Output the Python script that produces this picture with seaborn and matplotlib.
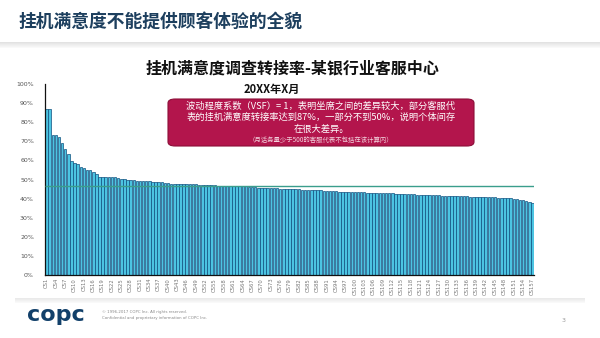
import numpy as np
import pandas as pd
import matplotlib
matplotlib.use("Agg")
import matplotlib.pyplot as plt
from matplotlib.patches import FancyBboxPatch, Rectangle
import seaborn as sns

# Transfer rate per service rep (%), sorted descending
rates = [
    86.9, 86.9, 73.3, 73.3, 72.1, 69.3, 65.8, 63.4, 59.9, 58.8, 57.9, 56.6, 55.8, 55.2, 54.8, 54.0, 53.0,
    51.3, 51.2, 51.2, 51.2, 51.1, 51.1, 51.0,
    50.3, 50.1, 50.0, 49.8,
    49.5, 49.4, 49.3,
    49.1, 49.0, 49.0, 48.8,
    48.7, 48.6, 48.5, 48.3,
    48.0, 47.9, 47.9, 47.8, 47.8, 47.7, 47.7, 47.6, 47.5,
    47.4, 47.3, 47.3, 47.2, 47.2, 47.1,
    46.9, 46.8, 46.8, 46.8, 46.7, 46.7, 46.6, 46.6, 46.5, 46.5, 46.4, 46.3, 46.2,
    45.9, 45.8, 45.8, 45.7, 45.7, 45.6, 45.5, 45.4,
    45.2, 45.1, 45.0, 45.0, 45.0, 44.9, 44.8, 44.7,
    44.6, 44.5, 44.5, 44.4, 44.3, 44.3, 44.2, 44.1,
    43.9, 43.8, 43.8, 43.7, 43.7, 43.6, 43.6, 43.5, 43.4,
    43.3, 43.2, 43.2, 43.1, 43.1, 43.0, 43.0, 42.9, 42.9,
    42.8, 42.7, 42.7, 42.6, 42.6, 42.5, 42.5, 42.4, 42.3,
    42.2, 42.1, 42.1, 42.0, 42.0, 41.9, 41.9, 41.8, 41.7,
    41.6, 41.5, 41.5, 41.4, 41.4, 41.3, 41.3, 41.2, 41.1,
    41.0, 40.9, 40.9, 40.8, 40.8, 40.7, 40.7, 40.6, 40.6, 40.5, 40.5, 40.4, 40.3, 40.2,
    40.0, 39.8, 39.5, 39.2, 38.8, 38.3, 37.7,
]
reps = [f"CS{i + 1}" for i in range(len(rates))]
tick_every = 3
average_rate = 46.6
y_ticks = [0, 10, 20, 30, 40, 50, 60, 70, 80, 90, 100]

page_title = "挂机满意度不能提供顾客体验的全貌"
chart_title = "挂机满意度调查转接率-某银行业客服中心"
period = "20XX年X月"
note_lines = [
    "波动程度系数（VSF）= 1，表明坐席之间的差异较大，部分客服代",
    "表的挂机满意度转接率达到87%，一部分不到50%，说明个体间存",
    "在很大差异。",
]
note_small = "（月话务量少于500的客服代表不包括在该计算内）"

sns.set_theme(style="white")
plt.rcParams["font.family"] = ["Noto Sans CJK SC", "DejaVu Sans"]

W, H = 600, 338
fig = plt.figure(figsize=(W / 100, H / 100), dpi=100)
fig.patch.set_facecolor("white")

def fx(px):
    return px / W

def fy(py):
    return 1 - py / H

# header and footer shadow bands
for i in range(6):
    fig.add_artist(Rectangle((0, fy(43 + i)), 1, 1 / H, transform=fig.transFigure,
                             facecolor="#9a9a9a", alpha=0.28 - i * 0.045, edgecolor="none"))
for i in range(5):
    fig.add_artist(Rectangle((fx(15), fy(299 + i)), fx(570), 1 / H, transform=fig.transFigure,
                             facecolor="#a0a0a0", alpha=0.22 - i * 0.04, edgecolor="none"))

fig.text(fx(18), fy(22), page_title, fontsize=12.8, fontweight="bold", color="#1d3f5e",
         va="center", ha="left")
fig.text(fx(292), fy(68), chart_title, fontsize=11.5, fontweight="bold", color="#111111",
         va="center", ha="center")
fig.text(fx(272), fy(89), period, fontsize=8, fontweight="bold", color="#111111",
         va="center", ha="center")

# chart
ax = fig.add_axes([fx(45), fy(275), fx(534 - 45), (275 - 84) / H])
df = pd.DataFrame({"rep": reps, "rate": rates})
sns.barplot(data=df, x="rep", y="rate", order=reps, color="#4cc4e2", saturation=1,
            width=0.8, edgecolor="#0f4f7e", linewidth=0.5, ax=ax)
ax.set_xlim(-0.5, len(reps) - 0.5)
ax.set_ylim(0, 100)
ax.hlines(average_rate, -0.5, len(reps) - 0.5, color="#3a9e8c", linewidth=1.0, zorder=3)

ax.set_yticks(y_ticks)
ax.set_yticklabels([f"{v}%" for v in y_ticks], fontsize=4.5, color="#555555",
                   family=["DejaVu Sans"])
ticks = list(range(0, len(reps), tick_every))
ax.set_xticks(ticks)
ax.set_xticklabels([reps[i] for i in ticks], rotation=90, fontsize=3.8, color="#777777",
                   family=["DejaVu Sans"])
ax.tick_params(axis="both", length=0, pad=2)
ax.tick_params(axis="y", pad=8)
ax.set_xlabel("")
ax.set_ylabel("")
for s in ["top", "right"]:
    ax.spines[s].set_visible(False)
ax.spines["left"].set_color("#111111")
ax.spines["left"].set_linewidth(0.9)
ax.spines["bottom"].set_color("#111111")
ax.spines["bottom"].set_linewidth(0.9)
ax.patch.set_alpha(0)

# commentary box
box = FancyBboxPatch((fx(168), fy(146)), fx(306), (146 - 99) / H,
                     boxstyle="round,pad=0,rounding_size=0.012", transform=fig.transFigure,
                     facecolor="#b3154c", edgecolor="#8c0e38", linewidth=0.8, zorder=5)
fig.add_artist(box)
for k, line in enumerate(note_lines):
    fig.text(fx(321), fy(106 + k * 11.5), line, fontsize=6.7, color="white",
             ha="center", va="center", zorder=6)
fig.text(fx(321), fy(140), note_small, fontsize=4.6, color="#f3d4de",
         ha="center", va="center", zorder=6)

# footer
fig.text(fx(27), fy(315), "copc", fontsize=16, fontweight="bold", color="#12406a",
         family=["DejaVu Sans"], ha="left", va="center")
fig.text(fx(102), fy(312), "© 1996-2017 COPC Inc. All rights reserved.", fontsize=2.8,
         color="#888888", family=["DejaVu Sans"], ha="left", va="center")
fig.text(fx(102), fy(318), "Confidential and proprietary information of COPC Inc.", fontsize=2.8,
         color="#888888", family=["DejaVu Sans"], ha="left", va="center")
fig.text(fx(564), fy(321), "3", fontsize=4.5, color="#999999", family=["DejaVu Sans"],
         ha="center", va="center")

fig.savefig("out.png", dpi=100)
